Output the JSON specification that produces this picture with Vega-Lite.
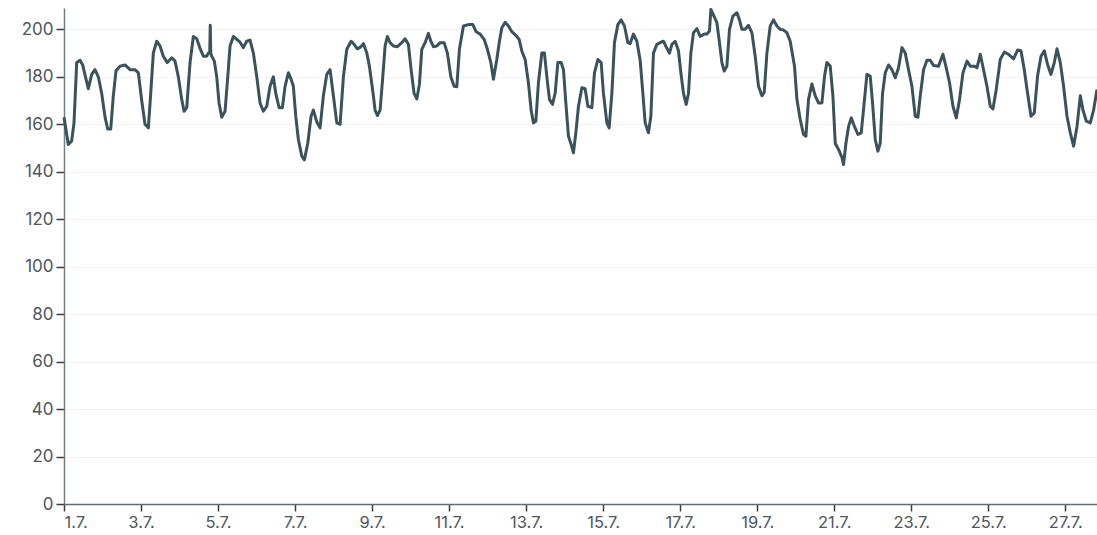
{
  "$schema": "https://vega.github.io/schema/vega-lite/v6.json",
  "width": 1033,
  "height": 496,
  "autosize": {"type": "none"},
  "padding": {"left": 64, "top": 8, "right": 0, "bottom": 31},
  "background": "white",
  "config": {"view": {"stroke": null}, "font": "Inter"},
  "data": {"values": [
    {"t":"2024-07-01T00:00","v":163},{"t":"2024-07-01T02:41","v":151.5},{"t":"2024-07-01T04:48","v":153},{"t":"2024-07-01T06:14","v":160.6},{"t":"2024-07-01T07:55","v":186},{"t":"2024-07-01T09:58","v":187},{"t":"2024-07-01T11:39","v":185},{"t":"2024-07-01T13:43","v":179},{"t":"2024-07-01T15:09","v":175},{"t":"2024-07-01T17:16","v":181},{"t":"2024-07-01T19:19","v":183},{"t":"2024-07-01T21:23","v":180},{"t":"2024-07-01T23:30","v":173},
    {"t":"2024-07-02T01:34","v":163},{"t":"2024-07-02T03:14","v":158},{"t":"2024-07-02T05:07","v":158},{"t":"2024-07-02T06:44","v":172},{"t":"2024-07-02T08:25","v":182.6},{"t":"2024-07-02T10:55","v":184.5},{"t":"2024-07-02T14:02","v":185},{"t":"2024-07-02T17:08","v":183},{"t":"2024-07-02T20:16","v":183},{"t":"2024-07-02T22:19","v":181.7},
    {"t":"2024-07-03T00:26","v":170},{"t":"2024-07-03T02:29","v":160},{"t":"2024-07-03T04:33","v":158.5},{"t":"2024-07-03T06:03","v":173},{"t":"2024-07-03T07:40","v":190},{"t":"2024-07-03T09:47","v":195},{"t":"2024-07-03T11:50","v":193},{"t":"2024-07-03T13:54","v":188.7},{"t":"2024-07-03T16:24","v":186},{"t":"2024-07-03T19:08","v":188},{"t":"2024-07-03T21:12","v":186.6},{"t":"2024-07-03T23:15","v":180},
    {"t":"2024-07-04T01:22","v":170.5},{"t":"2024-07-04T02:49","v":165.5},{"t":"2024-07-04T04:29","v":167},{"t":"2024-07-04T06:33","v":186},{"t":"2024-07-04T08:36","v":197},{"t":"2024-07-04T10:43","v":196},{"t":"2024-07-04T12:47","v":192},{"t":"2024-07-04T14:50","v":188.7},{"t":"2024-07-04T16:58","v":188.7},{"t":"2024-07-04T17:57","v":190},{"t":"2024-07-04T18:50","v":190},{"t":"2024-07-04T19:08","v":201.7},{"t":"2024-07-04T19:27","v":190},{"t":"2024-07-04T20:04","v":188.7},{"t":"2024-07-04T21:42","v":186.6},{"t":"2024-07-04T23:11","v":180},
    {"t":"2024-07-05T00:37","v":169},{"t":"2024-07-05T02:18","v":163},{"t":"2024-07-05T04:22","v":165.5},{"t":"2024-07-05T06:03","v":180},{"t":"2024-07-05T07:29","v":193},{"t":"2024-07-05T09:32","v":197},{"t":"2024-07-05T11:40","v":195.8},{"t":"2024-07-05T13:43","v":194.6},{"t":"2024-07-05T15:46","v":192.3},{"t":"2024-07-05T17:53","v":195},{"t":"2024-07-05T19:57","v":195.5},{"t":"2024-07-05T22:01","v":190},
    {"t":"2024-07-06T00:08","v":180},{"t":"2024-07-06T02:11","v":169},{"t":"2024-07-06T04:14","v":165.5},{"t":"2024-07-06T06:22","v":167.6},{"t":"2024-07-06T08:25","v":176},{"t":"2024-07-06T10:28","v":180},{"t":"2024-07-06T11:58","v":173},{"t":"2024-07-06T14:02","v":167},{"t":"2024-07-06T16:05","v":167},{"t":"2024-07-06T17:46","v":176},{"t":"2024-07-06T19:50","v":181.7},{"t":"2024-07-06T21:31","v":179},{"t":"2024-07-06T22:56","v":176},
    {"t":"2024-07-07T00:26","v":163.4},{"t":"2024-07-07T02:04","v":153.6},{"t":"2024-07-07T04:11","v":146.6},{"t":"2024-07-07T05:48","v":145},{"t":"2024-07-07T07:55","v":152},{"t":"2024-07-07T09:58","v":163.4},{"t":"2024-07-07T11:25","v":166},{"t":"2024-07-07T13:32","v":161},{"t":"2024-07-07T15:35","v":158.5},{"t":"2024-07-07T17:38","v":172},{"t":"2024-07-07T19:46","v":181},{"t":"2024-07-07T21:49","v":183},{"t":"2024-07-07T23:53","v":172},
    {"t":"2024-07-08T02:00","v":160.6},{"t":"2024-07-08T04:03","v":160},{"t":"2024-07-08T06:07","v":180},{"t":"2024-07-08T08:14","v":191.6},{"t":"2024-07-08T10:55","v":195},{"t":"2024-07-08T12:47","v":193.7},{"t":"2024-07-08T14:50","v":191.8},{"t":"2024-07-08T16:58","v":192.6},{"t":"2024-07-08T18:35","v":194},{"t":"2024-07-08T20:42","v":190},{"t":"2024-07-08T22:19","v":184.5},
    {"t":"2024-07-09T00:26","v":174},{"t":"2024-07-09T01:52","v":166},{"t":"2024-07-09T03:19","v":163.7},{"t":"2024-07-09T04:59","v":166},{"t":"2024-07-09T06:40","v":180},{"t":"2024-07-09T08:07","v":193},{"t":"2024-07-09T09:32","v":197},{"t":"2024-07-09T11:13","v":194.4},{"t":"2024-07-09T13:17","v":193},{"t":"2024-07-09T15:46","v":192.7},{"t":"2024-07-09T18:31","v":194.4},{"t":"2024-07-09T20:34","v":196},{"t":"2024-07-09T22:38","v":193.7},
    {"t":"2024-07-10T00:19","v":183},{"t":"2024-07-10T02:11","v":173},{"t":"2024-07-10T03:52","v":170.7},{"t":"2024-07-10T05:29","v":176.8},{"t":"2024-07-10T06:59","v":191.6},{"t":"2024-07-10T09:02","v":194.4},{"t":"2024-07-10T11:06","v":198.3},{"t":"2024-07-10T12:36","v":195},{"t":"2024-07-10T14:13","v":192.7},{"t":"2024-07-10T16:20","v":193},{"t":"2024-07-10T18:23","v":194.4},{"t":"2024-07-10T20:53","v":194.4},{"t":"2024-07-10T22:56","v":190},
    {"t":"2024-07-11T01:04","v":180},{"t":"2024-07-11T03:07","v":176},{"t":"2024-07-11T04:48","v":175.8},{"t":"2024-07-11T06:25","v":191.6},{"t":"2024-07-11T08:55","v":201.4},{"t":"2024-07-11T12:02","v":202},{"t":"2024-07-11T14:47","v":202},{"t":"2024-07-11T16:50","v":199},{"t":"2024-07-11T19:20","v":198},{"t":"2024-07-11T21:49","v":195.8},{"t":"2024-07-11T23:53","v":191.6},
    {"t":"2024-07-12T02:00","v":186},{"t":"2024-07-12T03:37","v":179},{"t":"2024-07-12T05:44","v":187.3},{"t":"2024-07-12T07:22","v":195},{"t":"2024-07-12T08:52","v":200.7},{"t":"2024-07-12T10:55","v":203},{"t":"2024-07-12T12:58","v":201.4},{"t":"2024-07-12T15:05","v":199},{"t":"2024-07-12T17:35","v":197.5},{"t":"2024-07-12T19:38","v":195.8},{"t":"2024-07-12T21:19","v":190.9},{"t":"2024-07-12T23:23","v":187.3},
    {"t":"2024-07-13T01:26","v":177.5},{"t":"2024-07-13T03:07","v":166},{"t":"2024-07-13T04:33","v":160.6},{"t":"2024-07-13T06:03","v":161.3},{"t":"2024-07-13T07:40","v":177.5},{"t":"2024-07-13T09:47","v":190},{"t":"2024-07-13T11:25","v":190},{"t":"2024-07-13T12:55","v":180},{"t":"2024-07-13T14:32","v":170.5},{"t":"2024-07-13T16:24","v":168.4},{"t":"2024-07-13T18:05","v":173},{"t":"2024-07-13T19:46","v":186},{"t":"2024-07-13T21:49","v":186},{"t":"2024-07-13T23:16","v":183},
    {"t":"2024-07-14T00:45","v":169},{"t":"2024-07-14T02:22","v":155},{"t":"2024-07-14T04:04","v":151.5},{"t":"2024-07-14T05:29","v":148},{"t":"2024-07-14T06:59","v":156.4},{"t":"2024-07-14T08:37","v":167.6},{"t":"2024-07-14T10:44","v":175.4},{"t":"2024-07-14T12:47","v":175},{"t":"2024-07-14T14:28","v":167.6},{"t":"2024-07-14T16:58","v":167},{"t":"2024-07-14T18:35","v":181.7},{"t":"2024-07-14T20:42","v":187.3},{"t":"2024-07-14T22:46","v":186},
    {"t":"2024-07-15T00:11","v":173},{"t":"2024-07-15T02:19","v":160.6},{"t":"2024-07-15T03:44","v":158.5},{"t":"2024-07-15T05:26","v":173},{"t":"2024-07-15T07:03","v":194.4},{"t":"2024-07-15T09:10","v":202},{"t":"2024-07-15T11:13","v":204},{"t":"2024-07-15T13:17","v":201.4},{"t":"2024-07-15T15:24","v":194.4},{"t":"2024-07-15T16:50","v":194},{"t":"2024-07-15T18:53","v":198},{"t":"2024-07-15T21:01","v":195},{"t":"2024-07-15T23:04","v":187},
    {"t":"2024-07-16T00:45","v":173},{"t":"2024-07-16T02:11","v":160.6},{"t":"2024-07-16T04:14","v":156.4},{"t":"2024-07-16T05:44","v":163.4},{"t":"2024-07-16T07:21","v":190},{"t":"2024-07-16T09:28","v":193.7},{"t":"2024-07-16T11:32","v":194.4},{"t":"2024-07-16T13:35","v":195},{"t":"2024-07-16T15:43","v":192},{"t":"2024-07-16T17:20","v":190},{"t":"2024-07-16T18:50","v":193.7},{"t":"2024-07-16T20:53","v":195},{"t":"2024-07-16T22:56","v":191},
    {"t":"2024-07-17T00:26","v":181.7},{"t":"2024-07-17T02:04","v":173},{"t":"2024-07-17T03:44","v":168.4},{"t":"2024-07-17T05:10","v":173},{"t":"2024-07-17T06:40","v":190},{"t":"2024-07-17T08:17","v":198.6},{"t":"2024-07-17T10:25","v":200.3},{"t":"2024-07-17T12:28","v":197},{"t":"2024-07-17T14:58","v":198},{"t":"2024-07-17T16:38","v":198},{"t":"2024-07-17T18:16","v":199.3},{"t":"2024-07-17T19:08","v":208.4},{"t":"2024-07-17T20:46","v":206},{"t":"2024-07-17T22:53","v":202.8},
    {"t":"2024-07-18T00:30","v":194.4},{"t":"2024-07-18T02:00","v":186},{"t":"2024-07-18T03:26","v":182.4},{"t":"2024-07-18T05:07","v":184.5},{"t":"2024-07-18T06:44","v":200},{"t":"2024-07-18T08:51","v":205.6},{"t":"2024-07-18T11:21","v":207},{"t":"2024-07-18T12:58","v":204},{"t":"2024-07-18T14:28","v":200},{"t":"2024-07-18T16:31","v":200},{"t":"2024-07-18T18:35","v":201.7},{"t":"2024-07-18T20:42","v":198.6},{"t":"2024-07-18T22:45","v":188.7},
    {"t":"2024-07-19T00:49","v":176},{"t":"2024-07-19T02:56","v":172},{"t":"2024-07-19T04:22","v":173.4},{"t":"2024-07-19T06:03","v":190},{"t":"2024-07-19T08:07","v":201.4},{"t":"2024-07-19T10:10","v":204},{"t":"2024-07-19T12:17","v":201.4},{"t":"2024-07-19T14:20","v":200},{"t":"2024-07-19T16:24","v":199.7},{"t":"2024-07-19T18:31","v":198.6},{"t":"2024-07-19T20:34","v":195},{"t":"2024-07-19T23:15","v":184.5},
    {"t":"2024-07-20T00:45","v":170.5},{"t":"2024-07-20T02:49","v":162},{"t":"2024-07-20T04:52","v":155.7},{"t":"2024-07-20T06:22","v":155},{"t":"2024-07-20T07:59","v":170.5},{"t":"2024-07-20T10:06","v":177},{"t":"2024-07-20T12:10","v":172},{"t":"2024-07-20T14:13","v":169},{"t":"2024-07-20T16:20","v":169},{"t":"2024-07-20T17:58","v":180.3},{"t":"2024-07-20T19:27","v":186},{"t":"2024-07-20T21:31","v":184.5},{"t":"2024-07-20T23:11","v":172},
    {"t":"2024-07-21T00:38","v":152},{"t":"2024-07-21T02:41","v":149.4},{"t":"2024-07-21T04:49","v":146},{"t":"2024-07-21T05:48","v":143},{"t":"2024-07-21T07:18","v":152},{"t":"2024-07-21T08:55","v":159},{"t":"2024-07-21T10:36","v":162.7},{"t":"2024-07-21T12:40","v":159},{"t":"2024-07-21T14:47","v":155.7},{"t":"2024-07-21T16:50","v":156.4},{"t":"2024-07-21T18:53","v":170.5},{"t":"2024-07-21T20:23","v":181},{"t":"2024-07-21T22:27","v":180.3},{"t":"2024-07-21T23:53","v":169},
    {"t":"2024-07-22T01:34","v":153.6},{"t":"2024-07-22T03:14","v":148.7},{"t":"2024-07-22T04:41","v":152},{"t":"2024-07-22T06:07","v":173},{"t":"2024-07-22T07:48","v":181.7},{"t":"2024-07-22T09:51","v":185},{"t":"2024-07-22T11:58","v":183},{"t":"2024-07-22T14:02","v":179.6},{"t":"2024-07-22T16:05","v":183.8},{"t":"2024-07-22T18:13","v":192.3},{"t":"2024-07-22T20:16","v":190},{"t":"2024-07-22T22:19","v":183},
    {"t":"2024-07-23T00:26","v":176},{"t":"2024-07-23T02:30","v":163.4},{"t":"2024-07-23T04:11","v":163},{"t":"2024-07-23T05:37","v":172},{"t":"2024-07-23T07:40","v":183},{"t":"2024-07-23T09:47","v":187},{"t":"2024-07-23T11:51","v":187},{"t":"2024-07-23T13:54","v":184.8},{"t":"2024-07-23T17:01","v":184.5},{"t":"2024-07-23T19:46","v":189.5},{"t":"2024-07-23T21:49","v":183.8},{"t":"2024-07-23T23:53","v":177.5},
    {"t":"2024-07-24T02:00","v":167.6},{"t":"2024-07-24T04:03","v":162.7},{"t":"2024-07-24T06:07","v":170.5},{"t":"2024-07-24T08:14","v":181.7},{"t":"2024-07-24T10:43","v":186.6},{"t":"2024-07-24T12:47","v":184.5},{"t":"2024-07-24T15:16","v":184.5},{"t":"2024-07-24T16:58","v":183.8},{"t":"2024-07-24T19:01","v":189.5},{"t":"2024-07-24T21:04","v":183},{"t":"2024-07-24T23:11","v":176},
    {"t":"2024-07-25T01:15","v":167.6},{"t":"2024-07-25T02:56","v":166.5},{"t":"2024-07-25T04:59","v":174.7},{"t":"2024-07-25T07:29","v":187.3},{"t":"2024-07-25T09:59","v":190.4},{"t":"2024-07-25T12:40","v":189.5},{"t":"2024-07-25T15:47","v":187.6},{"t":"2024-07-25T18:16","v":191.3},{"t":"2024-07-25T20:23","v":191},{"t":"2024-07-25T22:27","v":183},
    {"t":"2024-07-26T00:31","v":173},{"t":"2024-07-26T02:38","v":163.4},{"t":"2024-07-26T04:41","v":164.8},{"t":"2024-07-26T06:44","v":180.3},{"t":"2024-07-26T08:52","v":188.7},{"t":"2024-07-26T10:55","v":191},{"t":"2024-07-26T12:58","v":185.2},{"t":"2024-07-26T15:05","v":181},{"t":"2024-07-26T17:09","v":186},{"t":"2024-07-26T18:50","v":191.8},{"t":"2024-07-26T20:53","v":186},{"t":"2024-07-26T22:57","v":176},
    {"t":"2024-07-27T01:04","v":163.4},{"t":"2024-07-27T03:08","v":156.4},{"t":"2024-07-27T05:11","v":150.8},{"t":"2024-07-27T07:18","v":159},{"t":"2024-07-27T09:22","v":172},{"t":"2024-07-27T11:02","v":166},{"t":"2024-07-27T13:06","v":161.3},{"t":"2024-07-27T15:35","v":160.6},{"t":"2024-07-27T17:39","v":166},{"t":"2024-07-27T19:46","v":174.7}
  ]},
  "mark": {"type": "line", "color": "#3a525d", "strokeWidth": 3, "interpolate": "linear", "strokeJoin": "round"},
  "encoding": {
    "x": {
      "field": "t", "type": "temporal",
      "scale": {"nice": false},
      "axis": {
        "title": null, "format": "%-d.%-m.", "tickCount": {"interval": "day", "step": 2},
        "grid": false, "domainColor": "#5f6d75", "domainWidth": 1.5, "tickColor": "#3c3c3c", "tickWidth": 1.5, "tickSize": 7,
        "labelColor": "#4d5760", "labelFontSize": 16.5, "labelPadding": 3, "labelFont": "Inter"
      }
    },
    "y": {
      "field": "v", "type": "quantitative",
      "scale": {"domain": [0, 209], "nice": false, "zero": true},
      "axis": {
        "title": null, "values": [0,20,40,60,80,100,120,140,160,180,200],
        "grid": true, "gridColor": "#f2f2f2", "gridWidth": 1,
        "domainColor": "#6f7f88", "domainWidth": 1.5, "tickColor": "#3c3c3c", "tickWidth": 1.5, "tickSize": 8,
        "labelColor": "#4d5760", "labelFontSize": 17, "labelPadding": 3, "labelFont": "Inter"
      }
    }
  }
}
